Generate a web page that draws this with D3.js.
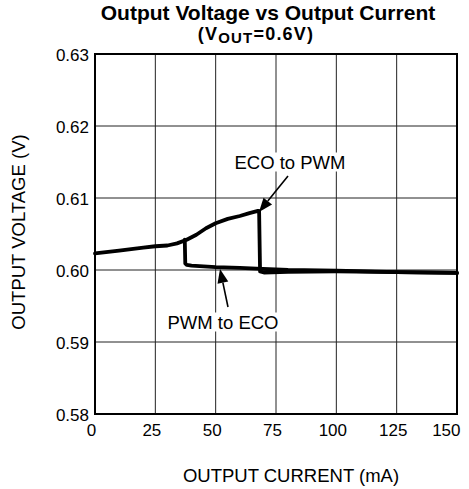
<!DOCTYPE html>
<html><head><meta charset="utf-8">
<script src="https://cdn.jsdelivr.net/npm/d3@7"></script>
<style>body{margin:0;background:#fff;} svg{display:block;} text{font-family:"Liberation Sans",Arial,sans-serif;fill:#000;}</style>
</head><body>
<svg id="c" width="469" height="489"></svg>
<script>
const xTicks = [0, 25, 50, 75, 100, 125, 150];
const yTicks = [0.58, 0.59, 0.60, 0.61, 0.62, 0.63];
const yTickLabels = ["0.58", "0.59", "0.60", "0.61", "0.62", "0.63"];
// ECO to PWM (increasing load)
const ecoCurrent = [0, 10, 20, 25, 30, 34, 38, 42, 46, 50, 55, 60, 64, 67.5, 68, 68.4, 70, 80, 100, 125, 150];
const ecoVoltage = [0.6023, 0.6027, 0.6031, 0.6033, 0.6034, 0.6037, 0.6042, 0.6049, 0.6058, 0.6065, 0.6071, 0.6075, 0.6079, 0.6082, 0.6082, 0.5998, 0.59965, 0.59975, 0.5998, 0.5997, 0.5996];
// PWM to ECO (decreasing load)
const pwmCurrent = [150, 125, 100, 80, 67, 60, 50, 40, 38, 37.4, 37.2];
const pwmVoltage = [0.5996, 0.5997, 0.5999, 0.6000, 0.6002, 0.6003, 0.6004, 0.6006, 0.6007, 0.6009, 0.6042];

const FONT = '"Liberation Sans",Arial,sans-serif';
const svg = d3.select("#c");
const L = 95, R = 457, T = 54, B = 414;
const x = d3.scaleLinear().domain([0, 150]).range([L, R]);
const y = d3.scaleLinear().domain([0.58, 0.63]).range([B, T]);

// grid
svg.append("g").selectAll("line").data(xTicks.slice(1, -1)).join("line")
  .attr("x1", d => x(d)).attr("x2", d => x(d)).attr("y1", T).attr("y2", B)
  .attr("stroke", "#222").attr("stroke-width", 1);
svg.append("g").selectAll("line").data(yTicks.slice(1, -1)).join("line")
  .attr("y1", d => y(d)).attr("y2", d => y(d)).attr("x1", L).attr("x2", R)
  .attr("stroke", "#222").attr("stroke-width", 1);

// axes labels via d3 axes (no lines)
const xAxis = svg.append("g").attr("transform", `translate(-4,${B})`)
  .call(d3.axisBottom(x).tickValues(xTicks).tickSize(0).tickPadding(10).tickFormat(d3.format("d")));
xAxis.select(".domain").remove();
xAxis.selectAll("text").attr("font-size", 17).style("font-family", FONT).attr("dy", "0.71em");
xAxis.selectAll(".tick").filter(d => d === 150).select("text").attr("text-anchor", "end").attr("x", 7);
const yAxis = svg.append("g").attr("transform", `translate(${L},0)`)
  .call(d3.axisLeft(y).tickValues(yTicks).tickSize(0).tickPadding(6).tickFormat((d, i) => yTickLabels[i]));
yAxis.select(".domain").remove();
yAxis.selectAll("text").attr("font-size", 17).style("font-family", FONT).attr("dy", "0.38em");

// curves
const line = d3.line().x(d => x(d[0])).y(d => y(d[1])).curve(d3.curveLinear);
const eco = ecoCurrent.map((c, i) => [c, ecoVoltage[i]]);
const pwm = pwmCurrent.map((c, i) => [c, pwmVoltage[i]]);
[eco, pwm].forEach(dat => svg.append("path").attr("d", line(dat))
  .attr("fill", "none").attr("stroke", "#000").attr("stroke-width", 3.8)
  .attr("stroke-linejoin", "round").attr("stroke-linecap", "round"));

// border
svg.append("rect").attr("x", L).attr("y", T).attr("width", R - L).attr("height", B - T)
  .attr("fill", "none").attr("stroke", "#000").attr("stroke-width", 2);

// annotations
function arrow(x1, y1, x2, y2) {
  const ang = Math.atan2(y2 - y1, x2 - x1);
  const len = 14, w = 5.5;
  const bx = x2 - len * Math.cos(ang), by = y2 - len * Math.sin(ang);
  svg.append("line").attr("x1", x1).attr("y1", y1).attr("x2", bx).attr("y2", by)
    .attr("stroke", "#000").attr("stroke-width", 1.6);
  const px = -Math.sin(ang) * w, py = Math.cos(ang) * w;
  svg.append("path").attr("d", `M${x2},${y2}L${bx + px},${by + py}L${bx - px},${by - py}Z`).attr("fill", "#000");
}
function label(cx, by, txt) {
  const t = svg.append("text").attr("x", cx).attr("y", by).attr("text-anchor", "middle")
    .attr("font-size", 18.5).text(txt);
  const bb = t.node().getBBox();
  svg.insert("rect", function () { return t.node(); })
    .attr("x", bb.x - 2).attr("y", bb.y + 1).attr("width", bb.width + 4).attr("height", bb.height - 2).attr("fill", "#fff");
}
label(290, 168.5, "ECO to PWM");
arrow(288, 176, 259, 212);
label(223, 328.5, "PWM to ECO");
arrow(228, 307, 220, 269);

// titles
svg.append("text").attr("x", 268).attr("y", 19.5).attr("text-anchor", "middle")
  .attr("font-size", 21).attr("font-weight", "bold").text("Output Voltage vs Output Current");
const t2 = svg.append("text").attr("x", 256).attr("y", 40).attr("text-anchor", "middle")
  .attr("font-size", 18).attr("font-weight", "bold").attr("letter-spacing", 1.2);
t2.append("tspan").text("(V");
t2.append("tspan").attr("font-size", 15).attr("dy", 3).text("OUT");
t2.append("tspan").attr("dy", -3).text("=0.6V)");

svg.append("text").attr("x", 291).attr("y", 481.5).attr("text-anchor", "middle").attr("font-size", 18.5).text("OUTPUT CURRENT (mA)");
svg.append("text").attr("transform", "translate(25,232) rotate(-90)").attr("text-anchor", "middle").attr("font-size", 18.5).text("OUTPUT VOLTAGE (V)");
</script>
</body></html>
